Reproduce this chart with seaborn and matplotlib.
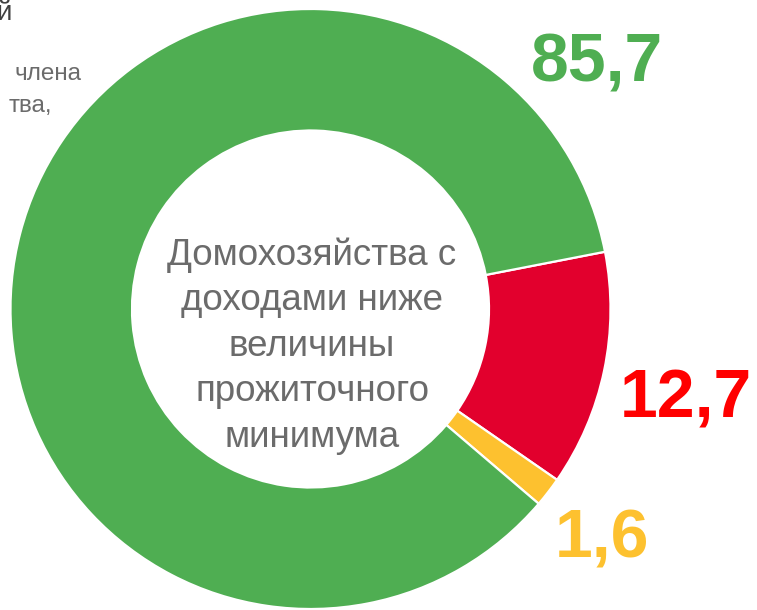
import matplotlib
matplotlib.use("Agg")
import matplotlib.pyplot as plt
import seaborn as sns

# shares of households, %
categories = ["Группа 1", "Группа 2", "Группа 3"]
shares = [12.7, 1.6, 85.7]
share_labels = ["12,7", "1,6", "85,7"]
slice_colors = ["#E2002D", "#FDC12F", "#4FAE52"]
label_colors = ["#FF0000", "#FDC12F", "#4FAE52"]
center_text = "Домохозяйства с\nдоходами ниже\nвеличины\nпрожиточного\nминимума"


def main():
    sns.set_theme(style="white")
    plt.rcParams["font.family"] = ["Liberation Sans", "DejaVu Sans"]

    fig = plt.figure(figsize=(7.57, 6.10), dpi=100)
    ax = fig.add_axes([10.5 / 757, 1 / 610, 600 / 757, 600 / 610])

    ax.pie(shares, colors=slice_colors, startangle=11, counterclock=False,
           radius=1.0, wedgeprops=dict(width=0.405, edgecolor="white", linewidth=1.6))
    ax.set_xlim(-1, 1)
    ax.set_ylim(-1, 1)
    ax.set_aspect("auto")
    ax.axis("off")

    # value labels placed around the ring
    label_pos = [(1.252, -0.36), (0.972, -0.83), (0.955, 0.757)]
    for (x, y), txt, c in zip(label_pos, share_labels, label_colors):
        ax.text(x, y, txt, color=c, fontsize=49, fontweight="bold",
                ha="center", va="baseline", clip_on=False)

    # multiline: baseline is the one of the last line
    ax.text(0.005, -0.46, center_text, color="#6B6B6B", fontsize=26.5,
            ha="center", va="baseline", linespacing=1.39, multialignment="center")

    # fragments of the neighbouring text block, cut by the slide edge
    fig.text(12 / 757, 1 - 20 / 610, "й", color="#404040", fontsize=20,
             ha="right", va="baseline")
    fig.text(82 / 757, 1 - 80 / 610, "члена", color="#6B6B6B", fontsize=17.5,
             ha="right", va="baseline")
    fig.text(52 / 757, 1 - 112 / 610, "тва,", color="#6B6B6B", fontsize=17.5,
             ha="right", va="baseline")

    fig.savefig("out.png", dpi=100, facecolor="white")


if __name__ == "__main__":
    main()
